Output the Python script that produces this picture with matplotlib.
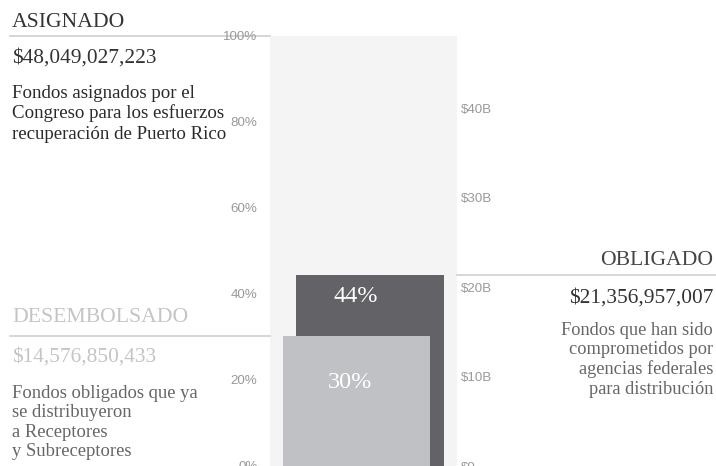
import matplotlib
matplotlib.use("Agg")
import matplotlib.pyplot as plt
from matplotlib.transforms import blended_transform_factory

# Dataset
# --------
asignado = 48049027223
obligado = 21356957007
desembolsado = 14576850433

pct_ticks = [0, 20, 40, 60, 80, 100]
usd_ticks = [0, 10e9, 20e9, 30e9, 40e9]
usd_labels = ["$0", "$10B", "$20B", "$30B", "$40B"]

desc_asignado = ["Fondos asignados por el", "Congreso para los esfuerzos", "recuperación de Puerto Rico"]
desc_desembolsado = ["Fondos obligados que ya", "se distribuyeron", "a Receptores", "y Subreceptores"]
desc_obligado = ["Fondos que han sido", "comprometidos por", "agencias federales", "para distribución"]

pct_obl = obligado / asignado * 100
pct_des = desembolsado / asignado * 100

# Draw Plot
# ---------
W, H = 716, 466
fig = plt.figure(figsize=(W / 100, H / 100), dpi=100)
serif = "Liberation Serif"
sans = "Liberation Sans"

ax = fig.add_axes([270 / W, 0, 187 / W, (H - 36) / H])
ax.set_facecolor("#f4f4f4")
ax.set_xlim(0, 187)
ax.set_ylim(0, 100)

ax.bar(26, pct_obl, width=148, align="edge", color="#636367", zorder=2)
ax.bar(13, pct_des, width=147, align="edge", color="#c0c1c4", zorder=3)

ax.annotate("%d%%" % round(pct_obl), (86, pct_obl), xytext=(0, -15.5), textcoords="offset points",
            ha="center", va="center", color="white", fontsize=17.5, family=serif, zorder=4)
ax.annotate("%d%%" % round(pct_des), (80, pct_des), xytext=(0, -34), textcoords="offset points",
            ha="center", va="center", color="white", fontsize=17.5, family=serif, zorder=4)

ax.set_yticks(pct_ticks)
ax.set_yticklabels(["%d%%" % t for t in pct_ticks])
ax.set_xticks([])
ax.tick_params(axis="y", length=0, pad=9, labelcolor="#999999", labelsize=9.6)
for lbl in ax.get_yticklabels():
    lbl.set_family(sans)
for s in ax.spines.values():
    s.set_visible(False)

ax2 = ax.twinx()
ax2.set_ylim(0, asignado)
ax2.set_yticks(usd_ticks)
ax2.set_yticklabels(usd_labels)
ax2.tick_params(axis="y", length=0, pad=3, labelcolor="#999999", labelsize=9.6)
for lbl in ax2.get_yticklabels():
    lbl.set_family(sans)
for s in ax2.spines.values():
    s.set_visible(False)

# reference lines, x in figure, y in data
tr = blended_transform_factory(fig.transFigure, ax.transData)
ax.plot([10 / W, 270 / W], [100, 100], transform=tr, color="#d0d0d0", lw=1.2, clip_on=False, zorder=1)
ax.plot([10 / W, 270 / W], [pct_des, pct_des], transform=tr, color="#d0d0d0", lw=1.2, clip_on=False, zorder=1)
ax.plot([457 / W, 1], [pct_obl, pct_obl], transform=tr, color="#d0d0d0", lw=1.2, clip_on=False, zorder=1)


def put(x, y, s, size, color, ha="left"):
    fig.text(x / W, 1 - y / H, s, fontsize=size, color=color, family=serif, ha=ha, va="baseline")


put(12, 27, "ASIGNADO", 15.6, "#333333")
put(12, 63, "${:,}".format(asignado), 15.4, "#333333")
for i, line in enumerate(desc_asignado):
    put(12, 98 + 20.5 * i, line, 13.6, "#2a2a2a")

put(12, 322, "DESEMBOLSADO", 15.6, "#c4c4c4")
put(12, 362, "${:,}".format(desembolsado), 15.4, "#c4c4c4")
for i, line in enumerate(desc_desembolsado):
    put(12, 398 + 19.3 * i, line, 13.4, "#666666")

put(713, 265, "OBLIGADO", 15.6, "#444444", ha="right")
put(713, 303, "${:,}".format(obligado), 15.4, "#333333", ha="right")
for i, line in enumerate(desc_obligado):
    put(713, 335 + 19.5 * i, line, 13.2, "#666666", ha="right")

plt.savefig("out.png", dpi=100)
